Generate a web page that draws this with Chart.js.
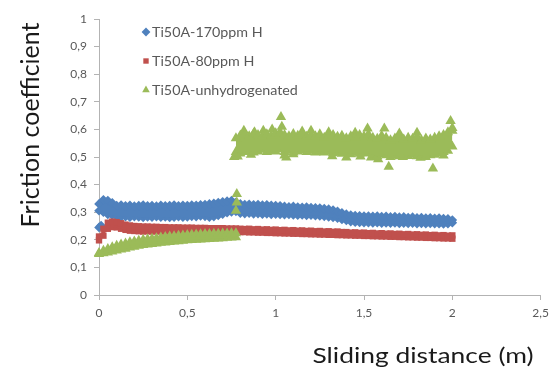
<!DOCTYPE html>
<html>
<head>
<meta charset="utf-8">
<script src="https://cdn.jsdelivr.net/npm/chart.js@4.4.1/dist/chart.umd.min.js"></script>
<style>
  html, body { margin: 0; padding: 0; background: #ffffff; }
  #wrap { width: 555px; height: 370px; }
</style>
</head>
<body>
<div id="wrap"><canvas id="frictionChart" width="555" height="370"></canvas></div>
<script>
// Sliding distance (m) of the logged points
const distance = [0, 0.025, 0.05, 0.075, 0.1, 0.125, 0.15, 0.175, 0.2, 0.225, 0.25, 0.275, 0.3, 0.325, 0.35, 0.375,
  0.4, 0.425, 0.45, 0.475, 0.5, 0.525, 0.55, 0.575, 0.6, 0.625, 0.65, 0.675, 0.7, 0.725, 0.75, 0.775,
  0.8, 0.825, 0.85, 0.875, 0.9, 0.925, 0.95, 0.975, 1, 1.025, 1.05, 1.075, 1.1, 1.125, 1.15, 1.175,
  1.2, 1.225, 1.25, 1.275, 1.3, 1.325, 1.35, 1.375, 1.4, 1.425, 1.45, 1.475, 1.5, 1.525, 1.55, 1.575,
  1.6, 1.625, 1.65, 1.675, 1.7, 1.725, 1.75, 1.775, 1.8, 1.825, 1.85, 1.875, 1.9, 1.925, 1.95, 1.975, 2];

// Ti50A-170ppm H : upper and lower edge of the scatter band
const h170Upper = [0.33, 0.345, 0.342, 0.334,
  0.324, 0.326, 0.323, 0.325, 0.322, 0.324, 0.326, 0.323, 0.324, 0.322, 0.325, 0.323, 0.324, 0.326, 0.323, 0.325, 0.324, 0.326, 0.325, 0.327,
  0.328, 0.33, 0.332, 0.335, 0.338, 0.34, 0.342, 0.336,
  0.33, 0.328, 0.329, 0.327, 0.328, 0.326, 0.327, 0.325, 0.324,
  0.323, 0.321, 0.32, 0.321, 0.319, 0.318, 0.319, 0.317, 0.316, 0.315, 0.313, 0.311, 0.308,
  0.303, 0.298, 0.293, 0.29, 0.288, 0.287, 0.286,
  0.286, 0.285, 0.286, 0.284, 0.285, 0.283, 0.284, 0.282, 0.283, 0.281, 0.282, 0.28, 0.281, 0.279, 0.28, 0.278, 0.279, 0.277, 0.276, 0.272];
const h170Lower = [0.305, 0.3, 0.292, 0.289,
  0.285, 0.283, 0.284, 0.282, 0.284, 0.283, 0.281, 0.283, 0.282, 0.284, 0.282, 0.283, 0.281, 0.282, 0.284, 0.282, 0.283, 0.285, 0.284, 0.286,
  0.285, 0.282, 0.284, 0.288, 0.293, 0.298, 0.301, 0.303,
  0.296, 0.295, 0.296, 0.294, 0.295, 0.293, 0.294, 0.292, 0.293,
  0.292, 0.291, 0.292, 0.29, 0.289, 0.29, 0.288, 0.289, 0.287, 0.286, 0.285, 0.283, 0.281,
  0.278, 0.274, 0.27, 0.266, 0.264, 0.263, 0.262,
  0.262, 0.261, 0.262, 0.26, 0.261, 0.26, 0.261, 0.259, 0.26, 0.259, 0.26, 0.258, 0.259, 0.258, 0.259, 0.258, 0.258, 0.257, 0.258, 0.262];
// stray points at the very start
const h170StrayX = [0, 0.012];
const h170StrayY = [0.245, 0.252];

// Ti50A-80ppm H
const h80Upper = [0.212, 0.24, 0.262, 0.266, 0.264, 0.26, 0.255, 0.252, 0.25,
  0.249, 0.248, 0.248, 0.247, 0.247, 0.246, 0.246, 0.245, 0.245, 0.245, 0.244, 0.244, 0.244, 0.243, 0.243, 0.243, 0.242, 0.242, 0.242, 0.242, 0.241, 0.241, 0.241,
  0.24, 0.239, 0.24, 0.238, 0.239, 0.237, 0.238, 0.236, 0.237, 0.235,
  0.236, 0.234, 0.235, 0.233, 0.234, 0.232, 0.233, 0.231, 0.232, 0.23,
  0.231, 0.229, 0.23, 0.228, 0.228, 0.226, 0.227, 0.225, 0.226, 0.224,
  0.225, 0.223, 0.224, 0.222, 0.223, 0.221, 0.222, 0.22, 0.221, 0.219,
  0.22, 0.218, 0.219, 0.217, 0.218, 0.216, 0.217, 0.215, 0.216];
const h80Lower = [0.198, 0.215, 0.24, 0.246, 0.245, 0.24, 0.236, 0.233, 0.232,
  0.231, 0.23, 0.231, 0.23, 0.231, 0.23, 0.231, 0.23, 0.231, 0.23, 0.231, 0.23, 0.231, 0.23, 0.231, 0.23, 0.231, 0.23, 0.23, 0.229, 0.23, 0.229, 0.229,
  0.228, 0.228, 0.227, 0.227, 0.226, 0.226, 0.225, 0.225, 0.224, 0.224,
  0.223, 0.223, 0.222, 0.222, 0.221, 0.221, 0.22, 0.22, 0.219, 0.219,
  0.218, 0.218, 0.217, 0.217, 0.216, 0.216, 0.215, 0.215, 0.214, 0.214,
  0.213, 0.213, 0.212, 0.212, 0.211, 0.211, 0.21, 0.21, 0.209, 0.209,
  0.208, 0.208, 0.207, 0.207, 0.206, 0.206, 0.205, 0.205, 0.204];

// Ti50A-unhydrogenated, first run (0 to 0.775 m)
const unhLowUpper = [0.152, 0.16, 0.167, 0.173, 0.178, 0.183, 0.187, 0.191, 0.194, 0.197, 0.2, 0.202, 0.204, 0.206, 0.208, 0.21,
  0.212, 0.213, 0.215, 0.216, 0.217, 0.218, 0.219, 0.22, 0.221, 0.221, 0.222, 0.222, 0.223, 0.223, 0.224, 0.224];
const unhLowLower = [0.149, 0.151, 0.154, 0.158, 0.161, 0.165, 0.168, 0.172, 0.175, 0.178, 0.181, 0.183, 0.185, 0.187, 0.189, 0.19,
  0.192, 0.194, 0.195, 0.197, 0.198, 0.199, 0.2, 0.201, 0.202, 0.203, 0.204, 0.205, 0.206, 0.207, 0.208, 0.209];
// Ti50A-unhydrogenated, second run (0.775 to 2 m)
const unhHighUpper = [0.568, 0.578, 0.582, 0.575, 0.584, 0.58, 0.573, 0.582, 0.577, 0.586,
  0.59, 0.58, 0.575, 0.583, 0.577, 0.585, 0.573, 0.58, 0.575, 0.582,
  0.57, 0.577, 0.58, 0.573, 0.577, 0.568, 0.575, 0.57, 0.58, 0.575,
  0.582, 0.57, 0.566, 0.577, 0.57, 0.561, 0.567, 0.573, 0.563, 0.57,
  0.566, 0.573, 0.561, 0.567, 0.563, 0.57, 0.575, 0.58, 0.59, 0.595];
const unhHighLower = [0.518, 0.513, 0.518, 0.523, 0.516, 0.52, 0.526, 0.518, 0.523, 0.52,
  0.528, 0.518, 0.523, 0.516, 0.52, 0.525, 0.518, 0.523, 0.516, 0.521,
  0.516, 0.52, 0.514, 0.518, 0.512, 0.516, 0.51, 0.516, 0.512, 0.518,
  0.513, 0.508, 0.503, 0.51, 0.506, 0.5, 0.506, 0.503, 0.508, 0.504,
  0.508, 0.503, 0.506, 0.5, 0.506, 0.508, 0.513, 0.518, 0.523, 0.538];
// isolated peaks and dips, plus the jump near 0.78 m
const unhStrayX = [0.775, 0.78, 0.78, 0.765, 0.785, 0.82, 0.86, 0.88, 0.93, 0.98, 1.03, 1.035, 1.05, 1.06,
  1.1, 1.15, 1.2, 1.3, 1.32, 1.4, 1.45, 1.48, 1.52, 1.54, 1.58, 1.615, 1.64, 1.7, 1.72, 1.8, 1.82, 1.89, 1.95, 1.99, 2];
const unhStrayY = [0.305, 0.335, 0.366, 0.5, 0.502, 0.595, 0.508, 0.59, 0.595, 0.6, 0.645, 0.61, 0.505, 0.498,
  0.51, 0.592, 0.595, 0.59, 0.503, 0.498, 0.588, 0.502, 0.603, 0.498, 0.492, 0.603, 0.465, 0.585, 0.5, 0.588, 0.497, 0.458, 0.505, 0.63, 0.605];

const seriesNames = ['Ti50A-170ppm H', 'Ti50A-80ppm H', 'Ti50A-unhydrogenated'];
const seriesColors = ['#4F81BD', '#C0504D', '#9BBB59'];
const seriesMarkers = ['rectRot', 'rect', 'triangle'];
const yTicks = [0, 0.1, 0.2, 0.3, 0.4, 0.5, 0.6, 0.7, 0.8, 0.9, 1];
const xTicks = [0, 0.5, 1, 1.5, 2, 2.5];

const FONT = "Lato, 'Open Sans', sans-serif";
const LABEL_COLOR = '#595959';
const AXIS_COLOR = '#B3B3B3';
const TRANSPARENT = 'rgba(0,0,0,0)';

const toPoints = (xs, ys) => xs.map((x, i) => ({ x: x, y: ys[i] }));
const decimalComma = v => String(Number(v.toFixed(2))).replace('.', ',');

// one edge of a band: markers along it, optionally filled down to the next dataset
const edge = (s, xs, ys, fillNext) => ({
    label: seriesNames[s],
    data: toPoints(xs, ys),
    showLine: true,
    borderColor: TRANSPARENT,
    borderWidth: 1,
    backgroundColor: seriesColors[s],
    fill: fillNext ? '+1' : false,
    pointStyle: seriesMarkers[s],
    pointRadius: s === 2 ? 6 : (s === 1 ? 4.5 : 4.8),
    pointBackgroundColor: seriesColors[s],
    pointBorderWidth: 0,
    clip: false,
    order: 2 - s
});
const stray = (s, xs, ys) => Object.assign(edge(s, xs, ys, false), { showLine: false });

// titles sit off-centre in the original, so they are drawn by hand
const axisTitles = {
    id: 'axisTitles',
    afterDraw: (chart) => {
        const ctx = chart.ctx;
        ctx.save();
        ctx.fillStyle = '#1a1a1a';
        ctx.textAlign = 'center';
        ctx.textBaseline = 'middle';
        ctx.save();
        ctx.font = '22px ' + FONT;
        ctx.translate(423, 356);
        ctx.scale(1.2, 1);
        ctx.fillText('Sliding distance (m)', 0, 0);
        ctx.restore();
        ctx.font = '25px ' + FONT;
        ctx.translate(31, 125);
        ctx.rotate(-Math.PI / 2);
        ctx.fillText('Friction coefficient', 0, 0);
        ctx.restore();
    }
};

// legend stacked inside the plot, top left
const insideLegend = {
    id: 'insideLegend',
    afterDraw: (chart) => {
        const ctx = chart.ctx;
        const rows = [32, 61, 90];
        ctx.save();
        ctx.font = '13px ' + FONT;
        ctx.textBaseline = 'middle';
        ctx.textAlign = 'left';
        seriesNames.forEach((name, i) => {
            ctx.fillStyle = seriesColors[i];
            Chart.helpers.drawPoint(ctx, {
                pointStyle: seriesMarkers[i],
                radius: i === 1 ? 3.8 : 4.4,
                rotation: 0,
                borderWidth: 0
            }, 146, rows[i]);
            ctx.save();
            ctx.translate(152, rows[i] + 1);
            ctx.scale(1.1, 1);
            ctx.fillStyle = LABEL_COLOR;
            ctx.fillText(name, 0, 0);
            ctx.restore();
        });
        ctx.restore();
    }
};

const lowRun = distance.slice(0, 32);
const highRun = distance.slice(31);

const ctx = document.getElementById('frictionChart').getContext('2d');
new Chart(ctx, {
    type: 'scatter',
    data: {
        datasets: [
            edge(0, distance, h170Upper, true),
            edge(0, distance, h170Lower, false),
            stray(0, h170StrayX, h170StrayY),
            edge(1, distance, h80Upper, true),
            edge(1, distance, h80Lower, false),
            edge(2, lowRun, unhLowUpper, true),
            edge(2, lowRun, unhLowLower, false),
            edge(2, highRun, unhHighUpper, true),
            edge(2, highRun, unhHighLower, false),
            stray(2, unhStrayX, unhStrayY)
        ]
    },
    options: {
        responsive: false,
        animation: false,
        events: [],
        layout: { padding: { top: 19, right: 9, left: 0, bottom: 0 } },
        plugins: {
            legend: { display: false },
            tooltip: { enabled: false },
            filler: { propagate: false }
        },
        scales: {
            x: {
                type: 'linear',
                min: 0,
                max: 2.5,
                afterBuildTicks: (axis) => { axis.ticks = xTicks.map(v => ({ value: v })); },
                afterFit: (axis) => { axis.height = 75; },
                ticks: {
                    color: LABEL_COLOR,
                    font: { family: FONT, size: 12 },
                    padding: 6,
                    maxRotation: 0,
                    callback: v => decimalComma(v)
                },
                grid: { drawOnChartArea: false, drawTicks: true, tickLength: 5, color: AXIS_COLOR },
                border: { display: true, color: AXIS_COLOR, width: 1 }
            },
            y: {
                type: 'linear',
                min: 0,
                max: 1,
                afterBuildTicks: (axis) => { axis.ticks = yTicks.map(v => ({ value: v })); },
                afterFit: (axis) => { axis.width = 99; },
                ticks: {
                    color: LABEL_COLOR,
                    font: { family: FONT, size: 12 },
                    padding: 7,
                    callback: v => decimalComma(v)
                },
                grid: { drawOnChartArea: false, drawTicks: true, tickLength: 5, color: AXIS_COLOR },
                border: { display: true, color: AXIS_COLOR, width: 1 }
            }
        }
    },
    plugins: [axisTitles, insideLegend]
});
</script>
</body>
</html>
